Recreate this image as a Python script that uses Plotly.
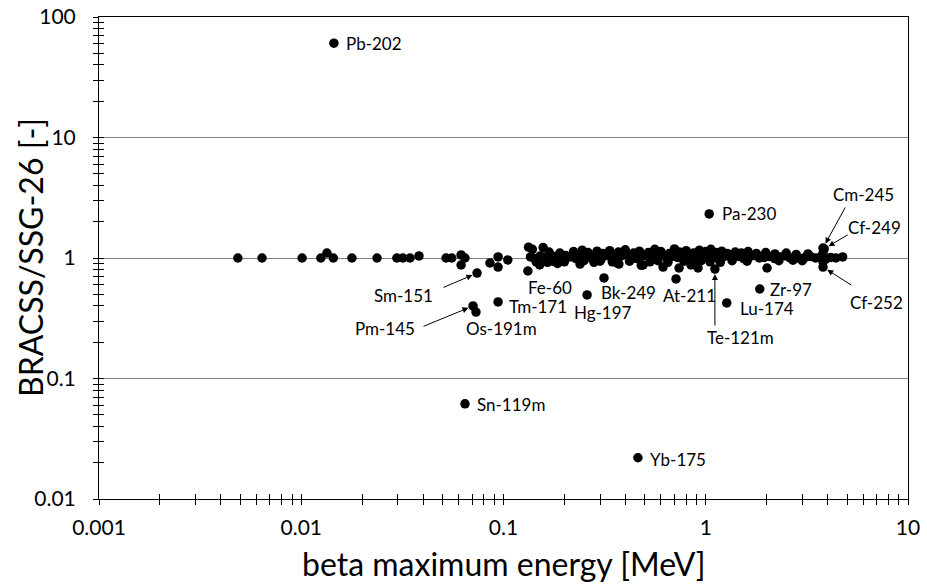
import numpy as np
import plotly.graph_objects as go

# ---------------- data ----------------
# labelled nuclides: beta maximum energy [MeV] and BRACSS/SSG-26 ratio
nuclide_names = ["Pb-202", "Pa-230", "Sn-119m", "Yb-175", "Sm-151", "Pm-145", "Os-191m",
                 "Tm-171", "Fe-60", "Hg-197", "Bk-249", "At-211", "Te-121m", "Lu-174",
                 "Zr-97", "Cm-245", "Cf-249", "Cf-252"]
nuclide_energy = [0.0145, 1.04, 0.0645, 0.462, 0.074, 0.0707, 0.0731,
                  0.094, 0.132, 0.259, 0.314, 0.713, 1.11, 1.27,
                  1.85, 3.80, 3.85, 3.80]
nuclide_ratio = [60.6, 2.32, 0.0616, 0.022, 0.75, 0.40, 0.356,
                 0.432, 0.78, 0.494, 0.683, 0.67, 0.81, 0.424,
                 0.553, 1.21, 1.19, 0.84]

# unlabelled nuclides, low-energy part
low_energy = [0.00486, 0.0064, 0.0101, 0.0125, 0.0134, 0.0144, 0.0178, 0.0237, 0.0297, 0.0318,
              0.0345, 0.0382, 0.052, 0.0555, 0.0617, 0.0645, 0.0617, 0.0857, 0.094, 0.094,
              0.105]
low_ratio = [1.0, 1.0, 1.0, 1.0, 1.1, 1.0, 1.0, 1.0, 1.0, 1.0,
             1.0, 1.04, 1.0, 1.0, 1.06, 1.0, 0.875, 0.909, 1.02, 0.84,
             0.963]

# unlabelled nuclides, dense band (middle)
band_mid_energy = [0.136, 0.143, 0.152, 0.160, 0.171, 0.180, 0.192, 0.203, 0.214, 0.228,
                   0.241, 0.256, 0.270, 0.287, 0.304, 0.322, 0.340, 0.361, 0.383, 0.405,
                   0.430, 0.455, 0.482, 0.511, 0.542, 0.574, 0.608, 0.645, 0.683, 0.724,
                   0.768, 0.813, 0.862, 0.914, 0.969, 1.03, 1.09, 1.15, 1.22, 1.30,
                   1.37, 1.46, 1.54, 1.64, 1.73, 1.84, 1.95, 2.06, 2.19, 2.32,
                   2.46, 2.61, 2.76, 2.93, 3.10, 3.29, 3.49, 3.70, 3.92, 4.15,
                   4.40, 4.75]
band_mid_ratio = [1.02, 0.99, 1.04, 1.01, 0.98, 1.03, 1.00, 1.05, 1.02, 0.99,
                  1.04, 1.06, 1.01, 1.03, 0.98, 1.05, 1.02, 1.00, 1.04, 1.07,
                  1.01, 0.99, 1.03, 1.05, 1.00, 1.02, 1.06, 0.99, 1.03, 1.01,
                  1.05, 0.98, 1.02, 1.04, 1.00, 1.03, 1.06, 0.99, 1.02, 1.04,
                  1.01, 1.03, 0.99, 1.02, 1.05, 1.00, 1.01, 1.03, 0.99, 1.02,
                  1.04, 1.00, 1.02, 0.99, 1.01, 1.03, 1.00, 1.02, 0.98, 1.01,
                  1.00, 1.02]

# dense band (upper edge)
band_up_energy = [0.133, 0.139, 0.157, 0.168, 0.190, 0.222, 0.245, 0.262, 0.290, 0.310,
                  0.335, 0.370, 0.400, 0.440, 0.470, 0.520, 0.560, 0.600, 0.660, 0.700,
                  0.740, 0.800, 0.870, 0.930, 1.000, 1.060, 1.120, 1.200, 1.280, 1.400,
                  1.500, 1.620, 1.780, 1.980, 2.200, 2.500, 2.800, 3.200, 3.80]
band_up_ratio = [1.23, 1.18, 1.22, 1.12, 1.10, 1.13, 1.16, 1.11, 1.14, 1.09,
                 1.15, 1.12, 1.17, 1.10, 1.14, 1.11, 1.18, 1.13, 1.09, 1.19,
                 1.12, 1.15, 1.10, 1.16, 1.13, 1.18, 1.11, 1.14, 1.09, 1.12,
                 1.10, 1.13, 1.09, 1.11, 1.08, 1.10, 1.07, 1.08, 1.10]

# dense band (lower edge)
band_low_energy = [0.145, 0.151, 0.165, 0.175, 0.185, 0.200, 0.239, 0.250, 0.280, 0.300,
                   0.345, 0.364, 0.372, 0.420, 0.480, 0.490, 0.530, 0.580, 0.615, 0.650,
                   0.738, 0.780, 0.845, 0.865, 0.916, 0.950, 1.050, 1.180, 1.350, 1.600,
                   2.010, 2.300, 2.700, 3.000, 3.80]
band_low_ratio = [0.93, 0.875, 0.92, 0.94, 0.90, 0.93, 0.89, 0.95, 0.92, 0.94,
                  0.93, 0.91, 0.89, 0.94, 0.87, 0.875, 0.93, 0.95, 0.84, 0.92,
                  0.826, 0.94, 0.875, 0.92, 0.826, 0.95, 0.93, 0.92, 0.95, 0.94,
                  0.826, 0.95, 0.96, 0.95, 0.93]

x_tick_values = [0.001, 0.01, 0.1, 1, 10]
x_tick_labels = ["0.001", "0.01", "0.1", "1", "10"]
y_tick_values = [0.01, 0.1, 1, 10, 100]
y_tick_labels = ["0.01", "0.1", "1", "10", "100"]

x_title = "beta maximum energy [MeV]"
y_title = "BRACSS/SSG-26 [-]"

# ---------------- figure ----------------
FONT = "Lato"
all_x = low_energy + band_mid_energy + band_up_energy + band_low_energy + nuclide_energy
all_y = low_ratio + band_mid_ratio + band_up_ratio + band_low_ratio + nuclide_ratio

fig = go.Figure()
fig.add_trace(go.Scatter(x=all_x, y=all_y, mode="markers",
                         marker=dict(size=9.5, color="black", line=dict(width=0)),
                         showlegend=False, hoverinfo="x+y"))
# empty trace to host overlay axes (for ticks crossing the axis lines)
fig.add_trace(go.Scatter(x=[], y=[], xaxis="x2", yaxis="y2", showlegend=False))

def minor_vals(lo, hi):
    return [m * 10.0 ** e for e in range(lo, hi) for m in range(2, 10)]

common = dict(type="log", showline=True, linecolor="black", linewidth=1, zeroline=False,
              tickcolor="black", ticklen=5, tickwidth=1, automargin=False)

fig.update_layout(
    width=927, height=588,
    margin=dict(l=99, r=19, t=17, b=89, autoexpand=False),
    paper_bgcolor="white", plot_bgcolor="white",
    font=dict(family=FONT, color="black"),
    xaxis=dict(**common, range=[-3, 1], tickmode="array", tickvals=x_tick_values,
               ticktext=x_tick_labels, ticks="outside", mirror=True, showgrid=False,
               tickfont=dict(size=21, family=FONT, color="black"),
               ticklabelstandoff=5,
               minor=dict(tickmode="array", tickvals=minor_vals(-3, 1), ticks="outside",
                          ticklen=5, tickcolor="black", showgrid=False)),
    yaxis=dict(**common, range=[-2, 2], tickmode="array", tickvals=y_tick_values,
               ticktext=y_tick_labels, ticks="outside", mirror=True, showgrid=True,
               gridcolor="#808080", gridwidth=1,
               tickfont=dict(size=21, family=FONT, color="black"),
               ticklabelstandoff=13,
               minor=dict(tickmode="array", tickvals=minor_vals(-2, 2), ticks="outside",
                          ticklen=5, tickcolor="black", showgrid=False)),
    xaxis2=dict(type="log", range=[-3, 1], overlaying="x", anchor="y", side="bottom",
                tickmode="array", tickvals=x_tick_values, ticks="inside", ticklen=5,
                tickcolor="black", showticklabels=False, showgrid=False, showline=False,
                zeroline=False, automargin=False,
                minor=dict(tickmode="array", tickvals=minor_vals(-3, 1), ticks="inside",
                           ticklen=5, tickcolor="black", showgrid=False)),
    yaxis2=dict(type="log", range=[-2, 2], overlaying="y", anchor="x", side="left",
                tickmode="array", tickvals=y_tick_values, ticks="inside", ticklen=5,
                tickcolor="black", showticklabels=False, showgrid=False, showline=False,
                zeroline=False, automargin=False,
                minor=dict(tickmode="array", tickvals=minor_vals(-2, 2), ticks="inside",
                           ticklen=5, tickcolor="black", showgrid=False)),
)

# label placement (pixel offsets from the point)
label_layout = {
    "Pb-202":  dict(dx=10, dy=0, anchor="left"),
    "Pa-230":  dict(dx=11, dy=0, anchor="left"),
    "Sn-119m": dict(dx=10, dy=-1, anchor="left"),
    "Yb-175":  dict(dx=10, dy=-2, anchor="left"),
    "Sm-151":  dict(dx=-74, dy=-22, anchor="center"),
    "Pm-145":  dict(dx=-88, dy=-23, anchor="center"),
    "Os-191m": dict(dx=26, dy=-16, anchor="center"),
    "Tm-171":  dict(dx=9, dy=-5, anchor="left"),
    "Fe-60":   dict(dx=22, dy=-16, anchor="center"),
    "Hg-197":  dict(dx=16, dy=-18, anchor="center"),
    "Bk-249":  dict(dx=24, dy=-15, anchor="center"),
    "At-211":  dict(dx=13, dy=-17, anchor="center"),
    "Te-121m": dict(dx=26, dy=-68, anchor="center"),
    "Lu-174":  dict(dx=11, dy=-6, anchor="left"),
    "Zr-97":   dict(dx=8, dy=0, anchor="left"),
    "Cm-245":  dict(dx=40, dy=54, anchor="center"),
    "Cf-249":  dict(dx=50, dy=21, anchor="center"),
    "Cf-252":  dict(dx=53, dy=-35, anchor="center"),
}
arrow_layout = {
    "Sm-151":  (-35, 15),
    "Pm-145":  (-51, 21),
    "Te-121m": (0, 58),
    "Cm-245":  (23, -42),
    "Cf-249":  (25, -15),
    "Cf-252":  (30, 19),
}

for name, ex, ry in zip(nuclide_names, nuclide_energy, nuclide_ratio):
    lx, ly = np.log10(ex), np.log10(ry)
    lay = label_layout[name]
    fig.add_annotation(x=lx, y=ly, xref="x", yref="y", text=name, showarrow=False,
                       xshift=lay["dx"], yshift=lay["dy"], xanchor=lay["anchor"],
                       yanchor="middle", font=dict(size=17, family=FONT, color="black"))
    if name in arrow_layout:
        ax, ay = arrow_layout[name]
        fig.add_annotation(x=lx, y=ly, xref="x", yref="y", text="", showarrow=True,
                           ax=ax, ay=ay, arrowhead=2, arrowsize=1.2, arrowwidth=1,
                           arrowcolor="black", standoff=5)

# axis titles
fig.add_annotation(xref="paper", yref="paper", x=0.5, y=-0.133, text=x_title,
                   showarrow=False, xanchor="center", yanchor="middle",
                   font=dict(size=32, family=FONT, color="black"))
fig.add_annotation(xref="paper", yref="paper", x=-0.0853, y=0.502, text=y_title,
                   showarrow=False, xanchor="center", yanchor="middle", textangle=-90,
                   font=dict(size=32, family=FONT, color="black"))

fig.write_html("out.html")
